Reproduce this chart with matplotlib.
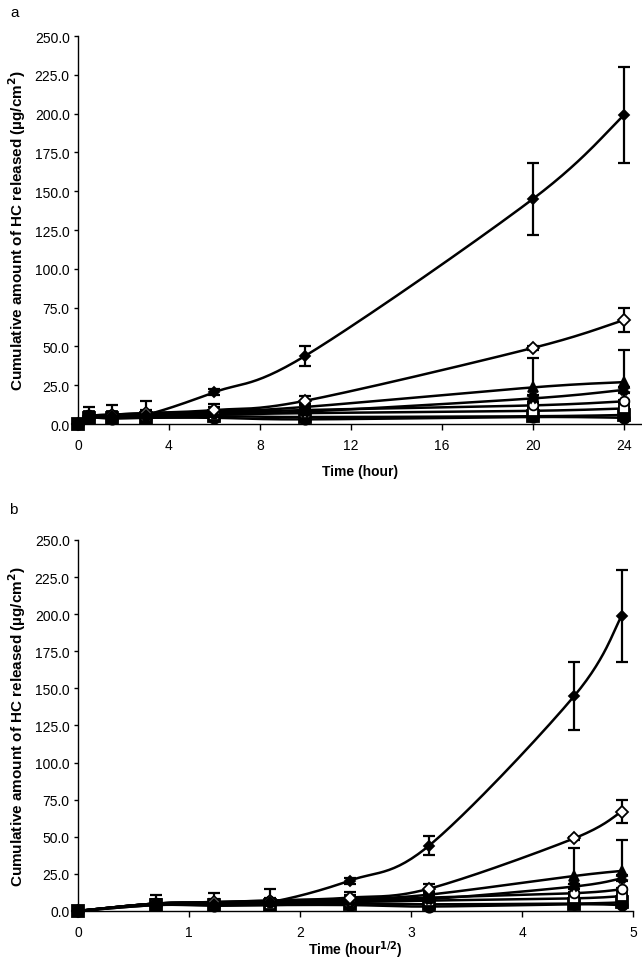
import numpy as np
import matplotlib
matplotlib.use('Agg')
import matplotlib.pyplot as plt

plt.rcParams['font.family'] = ['Liberation Sans', 'DejaVu Sans']

# sampling times (hours)
time_h = [0, 0.5, 1.5, 3, 6, 10, 20, 24]

# cumulative HC released (ug/cm2)
s_fdiamond = [0, 5.0, 5.0, 6.0, 20.5, 44.0, 145.0, 199.0]
e_fdiamond = [0, 2.0, 2.0, 2.0, 2.0, 6.5, 23.0, 31.0]
s_odiamond = [0, 5.0, 6.0, 7.0, 9.0, 15.0, 49.0, 67.0]
e_odiamond = [0, 2.0, 2.0, 2.0, 2.0, 3.0, 1.0, 7.5]
s_triangle = [0, 5.0, 6.0, 7.0, 8.0, 11.0, 23.6, 27.0]
e_triangle = [0, 6.0, 6.0, 8.0, 5.0, 2.0, 19.0, 21.0]
s_star = [0, 5.0, 5.0, 6.0, 7.0, 8.0, 16.5, 22.0]
e_star = [0, 2.0, 2.0, 2.0, 2.0, 2.0, 2.0, 2.0]
s_ocircle = [0, 5.0, 5.0, 6.0, 7.0, 9.0, 12.0, 14.6]
e_ocircle = [0, 1.0, 1.0, 1.0, 1.0, 1.0, 1.0, 1.0]
s_osquare = [0, 5.0, 5.0, 5.0, 6.0, 7.0, 8.5, 10.0]
e_osquare = [0, 1.0, 1.0, 1.0, 1.0, 1.0, 1.0, 1.0]
s_fsquare = [0, 4.0, 4.0, 4.0, 5.0, 4.5, 5.0, 5.8]
e_fsquare = [0, 1.0, 1.0, 1.0, 1.0, 1.0, 1.0, 1.0]
s_fcircle = [0, 4.0, 3.5, 4.0, 4.0, 3.0, 4.5, 4.0]
e_fcircle = [0, 1.0, 1.0, 1.0, 1.0, 1.0, 1.0, 1.0]

series = [
    (s_fsquare, e_fsquare, 's', 'black', 8),
    (s_fcircle, e_fcircle, 'o', 'black', 7.5),
    (s_osquare, e_osquare, 's', 'white', 7),
    (s_ocircle, e_ocircle, 'o', 'white', 7),
    (s_star, e_star, 'X', 'black', 7),
    (s_triangle, e_triangle, '^', 'black', 7.5),
    (s_odiamond, e_odiamond, 'D', 'white', 6.5),
    (s_fdiamond, e_fdiamond, 'D', 'black', 5),
]

yticks = np.arange(0, 251, 25)


def smooth(ax, x, y, n=30):
    # Excel-like smoothed line (Catmull-Rom in display space)
    pts = ax.transData.transform(np.column_stack([x, y]))
    p = np.vstack([pts[0], pts, pts[-1]])
    out = []
    t = np.linspace(0, 1, n)[:, None]
    for i in range(1, len(p) - 2):
        p0, p1, p2, p3 = p[i - 1], p[i], p[i + 1], p[i + 2]
        seg = 0.5 * ((2 * p1) + (-p0 + p2) * t + (2 * p0 - 5 * p1 + 4 * p2 - p3) * t ** 2
                     + (-p0 + 3 * p1 - 3 * p2 + p3) * t ** 3)
        out.append(seg)
    out = np.vstack(out)
    return ax.transData.inverted().transform(out)


def draw_panel(ax, x, xlim, xticks, xlabel, xpad):
    ax.set_xlim(*xlim)
    ax.set_ylim(0, 250)
    for yv, ev, mk, fc, ms in series:
        c = smooth(ax, x, yv)
        ax.plot(c[:, 0], c[:, 1], color='black', lw=1.8, zorder=2)
    for yv, ev, mk, fc, ms in series:
        ax.errorbar(x, yv, yerr=ev, fmt='none', ecolor='black', elinewidth=1.6,
                    capsize=4, capthick=1.6, zorder=3)
        ax.plot(x, yv, ls='none', marker=mk, markersize=ms, markerfacecolor=fc,
                markeredgecolor='black', markeredgewidth=1.3, zorder=4, clip_on=False)
    ax.set_yticks(yticks)
    ax.set_yticklabels([f'{v:.1f}' for v in yticks])
    ax.set_xticks(xticks)
    ax.set_xticklabels([str(v) for v in xticks])
    ax.spines['top'].set_visible(False)
    ax.spines['right'].set_visible(False)
    ax.spines['left'].set_linewidth(1.0)
    ax.spines['bottom'].set_linewidth(1.0)
    ax.tick_params(axis='y', direction='out', length=3, width=1, labelsize=10, pad=3)
    ax.tick_params(axis='x', direction='out', length=4, width=1, labelsize=10, pad=6)
    ax.set_xlabel(xlabel, fontsize=10, fontweight='bold', labelpad=xpad)
    ax.set_ylabel('Cumulative amount of HC released (\u00b5g/cm$^\\mathbf{2}$)',
                  fontsize=11, fontweight='bold', labelpad=5)


fig = plt.figure(figsize=(6.42, 9.62), dpi=100)

ax1 = fig.add_axes([0.1215, 0.5582, 0.8785, 0.4033])
draw_panel(ax1, time_h, (0, 24.8), [0, 4, 8, 12, 16, 20, 24], 'Time (hour)', 9)

ax2 = fig.add_axes([0.1215, 0.052, 0.8645, 0.3857])
sqrt_t = np.sqrt(time_h)
draw_panel(ax2, sqrt_t, (0, 5), [0, 1, 2, 3, 4, 5], 'Time (hour$^{\\mathbf{1/2}}$)', 0)

fig.text(0.016, 0.987, 'a', fontsize=11, va='center')
fig.text(0.014, 0.47, 'b', fontsize=11, va='center')

fig.savefig('out.png', dpi=100)
